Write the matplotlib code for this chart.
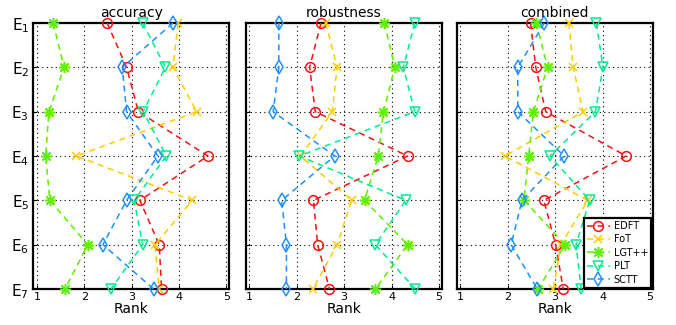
import matplotlib
matplotlib.use("Agg")
import matplotlib.pyplot as plt
import numpy as np

rows = [1, 2, 3, 4, 5, 6, 7]
row_labels = [r"E$_{%d}$" % i for i in rows]
methods = ["EDFT", "FoT", "LGT++", "PLT", "SCTT"]
panel_titles = ["accuracy", "robustness", "combined"]

# accuracy
acc_EDFT = [2.48, 2.89, 3.14, 4.61, 3.17, 3.58, 3.63]
acc_FoT = [3.98, 3.87, 4.37, 1.83, 4.28, 3.49, 3.58]
acc_LGT = [1.34, 1.57, 1.25, 1.18, 1.27, 2.07, 1.59]
acc_PLT = [3.23, 3.71, 3.24, 3.73, 3.05, 3.23, 2.56]
acc_SCTT = [3.87, 2.80, 2.89, 3.55, 2.89, 2.39, 3.46]

# robustness
rob_EDFT = [2.51, 2.27, 2.39, 4.34, 2.35, 2.44, 2.69]
rob_FoT = [2.61, 2.85, 2.75, 2.08, 3.16, 2.85, 2.34]
rob_LGT = [3.85, 4.07, 3.83, 3.72, 3.43, 4.34, 3.66]
rob_PLT = [4.49, 4.25, 4.49, 2.05, 4.30, 3.66, 4.50]
rob_SCTT = [1.62, 1.62, 1.50, 2.80, 1.68, 1.78, 1.78]

# combined
com_EDFT = [2.48, 2.59, 2.80, 4.50, 2.76, 3.01, 3.17]
com_FoT = [3.29, 3.38, 3.59, 1.94, 3.69, 3.12, 2.96]
com_LGT = [2.60, 2.84, 2.54, 2.44, 2.34, 3.21, 2.64]
com_PLT = [3.87, 4.01, 3.85, 2.89, 3.73, 3.44, 3.55]
com_SCTT = [2.77, 2.21, 2.21, 3.19, 2.30, 2.07, 2.62]

panels = [
    [acc_EDFT, acc_FoT, acc_LGT, acc_PLT, acc_SCTT],
    [rob_EDFT, rob_FoT, rob_LGT, rob_PLT, rob_SCTT],
    [com_EDFT, com_FoT, com_LGT, com_PLT, com_SCTT],
]

colors = ["#ff1010", "#ffcc00", "#5ef000", "#00ee90", "#2090ff"]
markers = ["o", "x", (8, 2, 0), "v", "d"]
msizes = [7, 6, 8, 7.5, 7.5]

fig = plt.figure(figsize=(6.76, 3.25), dpi=100)
lefts = [33.3 / 676, 245.7 / 676, 456.7 / 676]
w = 196.0 / 676
b = 36.0 / 325
h = 266.0 / 325

for pi, (left, data, title) in enumerate(zip(lefts, panels, panel_titles)):
    ax = fig.add_axes([left, b, w, h])
    for vals, c, m, ms, name in zip(data, colors, markers, msizes, methods):
        ax.plot(vals, rows, linestyle=(0, (4, 3)), color=c, lw=1.1,
                marker=m, markersize=ms, markerfacecolor="none",
                markeredgecolor=c, markeredgewidth=1.1, clip_on=False,
                label=name, zorder=3)
    ax.set_xlim(0.92, 5.06)
    ax.set_ylim(7, 1)
    ax.set_xticks([1, 2, 3, 4, 5])
    ax.set_yticks(rows)
    ax.tick_params(direction="in", length=3, labelsize=8, pad=2)
    if pi == 0:
        ax.set_yticklabels(row_labels)
        ax.tick_params(axis="y", labelsize=11, pad=3)
    else:
        ax.set_yticklabels([])
    ax.grid(True, color="black", linestyle=(0, (1, 3)), lw=0.8)
    for s in ax.spines.values():
        s.set_linewidth(1.6)
    ax.set_title(title, fontsize=10, pad=4)
    ax.set_xlabel("Rank", fontsize=10, labelpad=0)
    if pi == 2:
        leg = ax.legend(loc="lower right", fontsize=7, handlelength=2.4,
                        borderpad=0.3, labelspacing=0.35, handletextpad=0.4,
                        fancybox=False, framealpha=1, borderaxespad=0.15)
        leg.get_frame().set_edgecolor("black")
        leg.get_frame().set_linewidth(1.6)

fig.savefig("out.png", dpi=100)
